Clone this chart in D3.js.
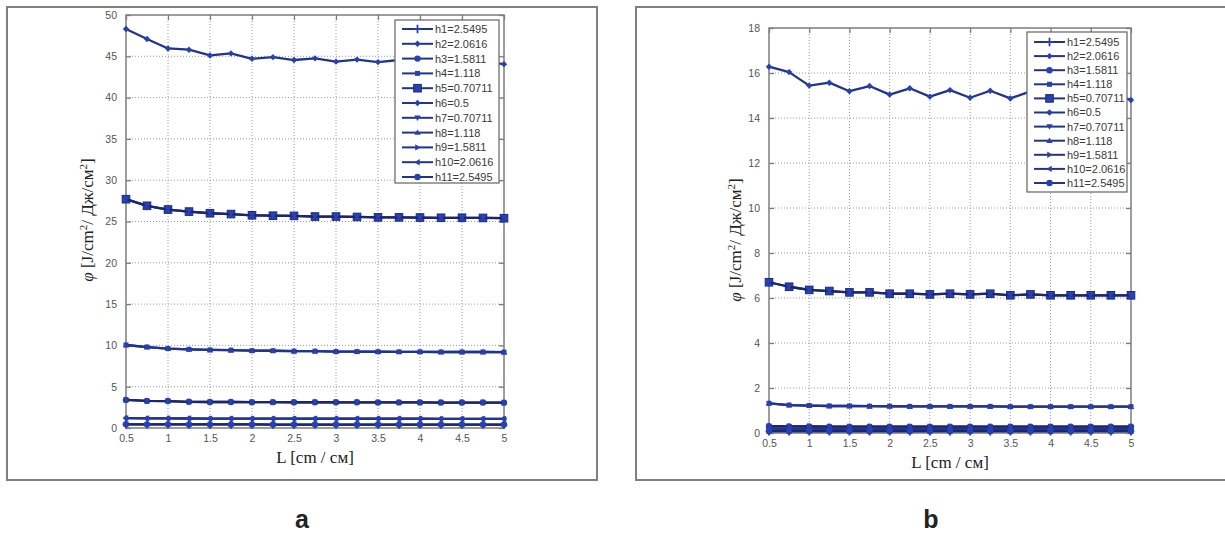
<!DOCTYPE html>
<html>
<head>
<meta charset="utf-8">
<script src="https://cdn.jsdelivr.net/npm/d3@7"></script>
<style>
  body { margin: 0; background: #fff; }
  svg { display: block; }
  .tick-lbl { font-family: "Liberation Sans", Arial, sans-serif; font-size: 10.5px; fill: #555; }
  .leg-lbl  { font-family: "Liberation Sans", Arial, sans-serif; font-size: 11px; fill: #3a3a3a; }
  .ax-title { font-family: "Liberation Serif", "Times New Roman", serif; font-size: 17px; fill: #222; }
  .caption  { font-family: "Liberation Sans", Arial, sans-serif; font-size: 25px; font-weight: bold; fill: #222; }
</style>
</head>
<body>
<svg id="chart" width="1225" height="534"></svg>
<script>
// ---- data -------------------------------------------------------------------
const L = [0.5, 0.75, 1, 1.25, 1.5, 1.75, 2, 2.25, 2.5, 2.75, 3, 3.25, 3.5, 3.75, 4, 4.25, 4.5, 4.75, 5];
const seriesNames = ['h1=2.5495', 'h2=2.0616', 'h3=1.5811', 'h4=1.118', 'h5=0.70711', 'h6=0.5',
                     'h7=0.70711', 'h8=1.118', 'h9=1.5811', 'h10=2.0616', 'h11=2.5495'];
const markers = ['plus', 'diamond', 'circle', 'point', 'square', 'diamond', 'tridown', 'triup', 'triright', 'trileft', 'circle'];
const xTicks = [0.5, 1, 1.5, 2, 2.5, 3, 3.5, 4, 4.5, 5];
const yTicksA = [0, 5, 10, 15, 20, 25, 30, 35, 40, 45, 50];
const yTicksB = [0, 2, 4, 6, 8, 10, 12, 14, 16, 18];

// panel a: symmetric pairs (h1/h11, h2/h10 ...) give the same curve
const aH1 = [0.45, 0.44, 0.44, 0.43, 0.43, 0.43, 0.43, 0.42, 0.42, 0.42, 0.42, 0.42, 0.42, 0.42, 0.42, 0.42, 0.42, 0.42, 0.42];
const aH2 = [1.2, 1.17, 1.16, 1.15, 1.14, 1.14, 1.13, 1.13, 1.13, 1.12, 1.12, 1.12, 1.12, 1.12, 1.12, 1.11, 1.11, 1.11, 1.11];
const aH3 = [3.4, 3.28, 3.26, 3.17, 3.15, 3.15, 3.13, 3.13, 3.12, 3.12, 3.11, 3.11, 3.1, 3.1, 3.1, 3.08, 3.08, 3.08, 3.07];
const aH4 = [10.05, 9.8, 9.62, 9.52, 9.45, 9.42, 9.36, 9.35, 9.3, 9.3, 9.25, 9.25, 9.23, 9.22, 9.22, 9.2, 9.2, 9.2, 9.18];
const aH5 = [27.7, 26.9, 26.45, 26.2, 26.0, 25.9, 25.75, 25.7, 25.68, 25.6, 25.6, 25.55, 25.5, 25.5, 25.48, 25.45, 25.45, 25.43, 25.4];
const aH6 = [48.3, 47.1, 45.95, 45.8, 45.1, 45.35, 44.7, 44.9, 44.55, 44.75, 44.35, 44.6, 44.3, 44.55, 44.2, 44.45, 44.15, 44.35, 44.05];

// panel b
const bH1 = [0.08, 0.08, 0.08, 0.08, 0.08, 0.08, 0.08, 0.08, 0.08, 0.08, 0.08, 0.08, 0.08, 0.08, 0.08, 0.08, 0.08, 0.08, 0.08];
const bH2 = [0.19, 0.18, 0.18, 0.18, 0.18, 0.18, 0.18, 0.18, 0.18, 0.18, 0.18, 0.18, 0.18, 0.18, 0.18, 0.18, 0.18, 0.18, 0.18];
const bH3 = [0.3, 0.29, 0.29, 0.28, 0.28, 0.28, 0.28, 0.28, 0.28, 0.28, 0.28, 0.28, 0.28, 0.28, 0.28, 0.28, 0.28, 0.28, 0.28];
const bH4 = [1.32, 1.24, 1.22, 1.2, 1.2, 1.19, 1.19, 1.18, 1.18, 1.18, 1.18, 1.18, 1.17, 1.17, 1.17, 1.17, 1.17, 1.17, 1.17];
const bH5 = [6.7, 6.5, 6.36, 6.31, 6.25, 6.25, 6.19, 6.19, 6.16, 6.19, 6.16, 6.19, 6.12, 6.16, 6.12, 6.12, 6.12, 6.12, 6.12];
const bH6 = [16.28, 16.04, 15.44, 15.57, 15.19, 15.42, 15.04, 15.32, 14.95, 15.24, 14.9, 15.21, 14.87, 15.18, 14.85, 15.15, 14.82, 15.12, 14.8];

const panelA = [aH1, aH2, aH3, aH4, aH5, aH6, aH5, aH4, aH3, aH2, aH1];
const panelB = [bH1, bH2, bH3, bH4, bH5, bH6, bH5, bH4, bH3, bH2, bH1];

// ---- styles -----------------------------------------------------------------
const LINE_COL = '#22338c';
const MARK_COL = '#2742b0';
const AXIS_COL = '#7d7d7d';

const svg = d3.select('#chart');

// ---- panels -----------------------------------------------------------------
drawPanel({
  frame: [7, 7, 597, 480], plot: [126, 15, 504, 428],
  yMax: 50, yTicks: yTicksA, data: panelA,
  legend: { x0: 395, y0: 20, x1: 499, y1: 183, row0: 29, step: 14.8 },
  yLabelX: 93, yLabelY: 220, caption: 'a', capX: 302
});
drawPanel({
  frame: [636, 7, 1226, 480], plot: [769, 28, 1131, 433],
  yMax: 18, yTicks: yTicksB, data: panelB,
  legend: { x0: 1027, y0: 32, x1: 1127, y1: 192, row0: 42, step: 14.1 },
  yLabelX: 741, yLabelY: 240, caption: 'b', capX: 931
});

function drawPanel(cfg) {
  const [fx0, fy0, fx1, fy1] = cfg.frame;
  const [px0, py0, px1, py1] = cfg.plot;
  const g = svg.append('g');

  // outer frame
  g.append('rect').attr('x', fx0).attr('y', fy0).attr('width', fx1 - fx0).attr('height', fy1 - fy0)
    .attr('fill', 'none').attr('stroke', '#808080').attr('stroke-width', 2);

  const x = d3.scaleLinear().domain([0.5, 5]).range([px0, px1]);
  const y = d3.scaleLinear().domain([0, cfg.yMax]).range([py1, py0]);

  // grid (dotted)
  const grid = g.append('g').attr('stroke', '#9a9a9a').attr('stroke-width', 1).attr('stroke-dasharray', '1,2');
  xTicks.slice(1, -1).forEach(t => grid.append('line')
    .attr('x1', x(t)).attr('x2', x(t)).attr('y1', py0).attr('y2', py1));
  cfg.yTicks.slice(1, -1).forEach(t => grid.append('line')
    .attr('x1', px0).attr('x2', px1).attr('y1', y(t)).attr('y2', y(t)));

  // axes: inward ticks on all four sides, matlab style
  const tk = 5;
  g.append('g').attr('transform', `translate(0,${py1})`)
    .call(d3.axisBottom(x).tickValues(xTicks).tickSizeInner(-tk).tickSizeOuter(0).tickPadding(7).tickFormat(d3.format('')));
  g.append('g').attr('transform', `translate(0,${py0})`)
    .call(d3.axisTop(x).tickValues(xTicks).tickSizeInner(-tk).tickSizeOuter(0).tickFormat(''));
  g.append('g').attr('transform', `translate(${px0},0)`)
    .call(d3.axisLeft(y).tickValues(cfg.yTicks).tickSizeInner(-tk).tickSizeOuter(0).tickPadding(9));
  g.append('g').attr('transform', `translate(${px1},0)`)
    .call(d3.axisRight(y).tickValues(cfg.yTicks).tickSizeInner(-tk).tickSizeOuter(0).tickFormat(''));
  g.selectAll('.domain').remove();
  g.selectAll('.tick line').attr('stroke', AXIS_COL).attr('stroke-width', 1.3);
  g.selectAll('.tick text').attr('class', 'tick-lbl').attr('font-size', null).attr('font-family', null).attr('fill', null);
  g.append('rect').attr('x', px0).attr('y', py0).attr('width', px1 - px0).attr('height', py1 - py0)
    .attr('fill', 'none').attr('stroke', AXIS_COL).attr('stroke-width', 1.5);

  // series
  const line = d3.line().x((d, i) => x(L[i])).y(d => y(d));
  cfg.data.forEach((vals, si) => {
    const s = g.append('g');
    s.append('path').attr('d', line(vals)).attr('fill', 'none')
      .attr('stroke', si % 2 ? LINE_COL : '#1b2570').attr('stroke-width', 2.3).attr('stroke-linejoin', 'round');
    vals.forEach((v, i) => drawMarker(s, markers[si], x(L[i]), y(v)));
  });

  // legend (opaque, sits over the curves)
  const lg = cfg.legend;
  g.append('rect').attr('x', lg.x0).attr('y', lg.y0).attr('width', lg.x1 - lg.x0).attr('height', lg.y1 - lg.y0)
    .attr('fill', '#fff').attr('stroke', '#6f6f6f').attr('stroke-width', 1.3);
  seriesNames.forEach((name, i) => {
    const ry = lg.row0 + i * lg.step;
    const lx0 = lg.x0 + 7, lx1 = lg.x0 + 38;
    g.append('line').attr('x1', lx0).attr('x2', lx1).attr('y1', ry).attr('y2', ry)
      .attr('stroke', LINE_COL).attr('stroke-width', 2);
    drawMarker(g, markers[i], (lx0 + lx1) / 2, ry);
    g.append('text').attr('class', 'leg-lbl').attr('x', lx1 + 2).attr('y', ry).attr('dy', '0.36em').text(name);
  });

  // axis titles
  const xt = g.append('text').attr('class', 'ax-title').attr('text-anchor', 'middle')
    .attr('x', (px0 + px1) / 2).attr('y', py1 + 35);
  xt.append('tspan').text('L [cm / см]');

  const yt = g.append('text').attr('class', 'ax-title').attr('text-anchor', 'middle')
    .attr('transform', `translate(${cfg.yLabelX},${cfg.yLabelY}) rotate(-90)`);
  yt.append('tspan').attr('font-style', 'italic').text('φ');
  yt.append('tspan').text(' [J/cm');
  yt.append('tspan').attr('dy', -6).attr('font-size', 11).text('2');
  yt.append('tspan').attr('dy', 6).text('/ Дж/см');
  yt.append('tspan').attr('dy', -6).attr('font-size', 11).text('2');
  yt.append('tspan').attr('dy', 6).text(']');

  svg.append('text').attr('class', 'caption').attr('text-anchor', 'middle')
    .attr('x', cfg.capX).attr('y', 528).text(cfg.caption);
}

// ---- helpers ----------------------------------------------------------------
function drawMarker(parent, type, cx, cy) {
  const m = parent.append('g').attr('transform', `translate(${cx},${cy})`);
  const r = 3.2;
  switch (type) {
    case 'plus':
      m.append('path').attr('d', `M0,${-r - 1}V${r + 1}M${-r},0H${r}`).attr('stroke', MARK_COL).attr('stroke-width', 1.8);
      break;
    case 'diamond':
      m.append('path').attr('d', `M0,${-r}L${r},0L0,${r}L${-r},0Z`).attr('fill', MARK_COL);
      break;
    case 'circle':
      m.append('circle').attr('r', r).attr('fill', MARK_COL);
      break;
    case 'point':
      m.append('rect').attr('x', -2.5).attr('y', -2.5).attr('width', 5).attr('height', 5).attr('fill', MARK_COL);
      break;
    case 'square':
      m.append('rect').attr('x', -3.8).attr('y', -3.8).attr('width', 7.6).attr('height', 7.6)
        .attr('fill', MARK_COL).attr('stroke', '#1b2a80').attr('stroke-width', 1);
      break;
    case 'tridown':
      m.append('path').attr('d', `M${-r},${-r * 0.7}L${r},${-r * 0.7}L0,${r}Z`).attr('fill', MARK_COL);
      break;
    case 'triup':
      m.append('path').attr('d', `M${-r},${r * 0.7}L${r},${r * 0.7}L0,${-r}Z`).attr('fill', MARK_COL);
      break;
    case 'triright':
      m.append('path').attr('d', `M${-r * 0.7},${-r}L${-r * 0.7},${r}L${r},0Z`).attr('fill', MARK_COL);
      break;
    case 'trileft':
      m.append('path').attr('d', `M${r * 0.7},${-r}L${r * 0.7},${r}L${-r},0Z`).attr('fill', MARK_COL);
      break;
  }
}
</script>
</body>
</html>
